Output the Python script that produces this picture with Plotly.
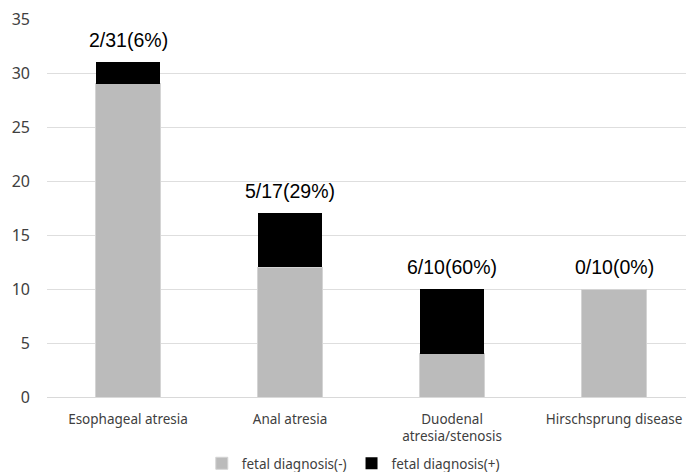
import plotly.graph_objects as go

categories = ["Esophageal atresia", "Anal atresia", "Duodenal<br>atresia/stenosis", "Hirschsprung disease"]
neg_values = [29, 12, 4, 10]
pos_values = [2, 5, 6, 0]
labels = ["2/31(6%)", "5/17(29%)", "6/10(60%)", "0/10(0%)"]
y_ticks = [0, 5, 10, 15, 20, 25, 30, 35]

fig = go.Figure()
fig.add_trace(go.Bar(x=categories, y=neg_values, name="fetal diagnosis(-)",
                     marker=dict(color="#bbbbbb", line=dict(color="#d4d4d4", width=1)), width=0.4))
fig.add_trace(go.Bar(x=categories, y=pos_values, name="fetal diagnosis(+)",
                     marker=dict(color="#000000", line=dict(width=0)), width=0.4))

for c, n, p, t in zip(categories, neg_values, pos_values, labels):
    fig.add_annotation(x=c, y=n + p, text=t, showarrow=False, yanchor="bottom", yshift=9,
                       font=dict(family="Liberation Sans, Arial", size=19.5, color="#000000"))

fig.update_layout(
    width=686, height=472,
    barmode="stack",
    plot_bgcolor="white", paper_bgcolor="white",
    margin=dict(l=47, r=0, t=19, b=75),
    xaxis=dict(range=[-0.5, 3.444], showgrid=False, showline=False, ticks="",
               ticklabelstandoff=12, automargin=False,
               tickfont=dict(family="Noto Sans", size=13.5, color="#404040")),
    yaxis=dict(range=[0, 35], tickvals=y_ticks, gridcolor="#dedede", gridwidth=1,
               zeroline=True, zerolinecolor="#d9d9d9", zerolinewidth=1,
               showline=False, ticks="", ticklabelstandoff=16, automargin=False,
               tickfont=dict(family="Noto Sans", size=16, color="#404040")),
    legend=dict(orientation="h", xref="container", x=0.515, xanchor="center",
                yref="container", y=0.018, yanchor="middle",
                font=dict(family="Noto Sans", size=13.5, color="#404040"),
                itemwidth=30, traceorder="normal"),
    bargap=0.6,
)

fig.write_html("out.html")
